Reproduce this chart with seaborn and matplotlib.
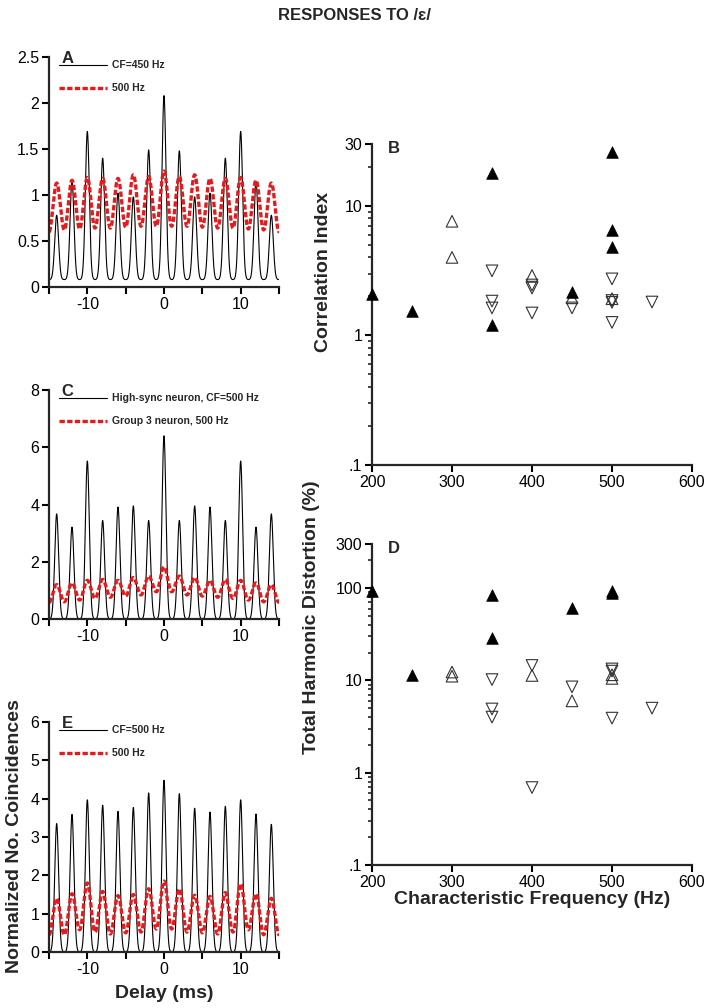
import numpy as np
import pandas as pd
import matplotlib
matplotlib.use("Agg")
import matplotlib.pyplot as plt
import seaborn as sns
from matplotlib.ticker import FixedLocator, FixedFormatter, LogLocator, NullFormatter

# ---- correlogram data (peaks every 2 ms, troughs half way between) ----
peak_delay = [-14, -12, -10, -8, -6, -4, -2, 0, 2, 4, 6, 8, 10, 12, 14]

a_black_peaks = [0.78, 1.15, 1.69, 1.40, 1.02, 0.98, 1.49, 2.08, 1.48, 0.98, 1.02, 1.40, 1.69, 1.15, 0.78]
a_black_floor = 0.08
a_red_peaks = [1.13, 1.16, 1.19, 1.18, 1.18, 1.22, 1.20, 1.26, 1.20, 1.22, 1.18, 1.18, 1.19, 1.16, 1.13]
a_red_troughs = [0.60, 0.62, 0.63, 0.64, 0.64, 0.65, 0.66, 0.66, 0.66, 0.66, 0.65, 0.64, 0.64, 0.63, 0.62, 0.60]

c_black_peaks = [3.67, 3.21, 5.52, 3.44, 3.91, 3.95, 3.44, 6.40, 3.44, 3.95, 3.91, 3.44, 5.52, 3.21, 3.67]
c_black_floor = 0.0
c_red_peaks = [1.20, 1.26, 1.35, 1.38, 1.35, 1.45, 1.50, 1.82, 1.50, 1.45, 1.35, 1.38, 1.35, 1.26, 1.20]
c_red_troughs = [0.58, 0.60, 0.66, 0.72, 0.76, 0.80, 0.84, 0.95, 0.95, 0.84, 0.80, 0.76, 0.72, 0.66, 0.60, 0.58]

e_black_peaks = [3.35, 3.59, 3.97, 3.83, 3.67, 3.77, 4.15, 4.48, 4.13, 3.75, 3.65, 3.80, 3.97, 3.60, 3.33]
e_black_floor = 0.0
e_red_peaks = [1.40, 1.52, 1.80, 1.58, 1.47, 1.50, 1.65, 1.85, 1.65, 1.48, 1.45, 1.55, 1.78, 1.52, 1.40]
e_red_troughs = [0.45, 0.45, 0.58, 0.52, 0.47, 0.50, 0.52, 0.60, 0.60, 0.52, 0.50, 0.47, 0.52, 0.58, 0.45, 0.45]

# ---- panel B: correlation index vs CF ----
b_filled_cf = [200, 250, 350, 350, 450, 500, 500, 500]
b_filled_val = [2.1, 1.55, 18, 1.2, 2.15, 26, 6.5, 4.8]
b_up_cf = [300, 300, 400, 450, 500]
b_up_val = [7.6, 4.0, 2.9, 1.95, 1.92]
b_down_cf = [350, 350, 350, 400, 400, 400, 450, 500, 500, 500, 500, 550]
b_down_val = [3.15, 1.84, 1.63, 2.45, 2.32, 1.49, 1.63, 2.73, 1.86, 1.80, 1.26, 1.81]

# ---- panel D: total harmonic distortion vs CF ----
d_filled_cf = [200, 250, 350, 350, 450, 500, 500]
d_filled_val = [92, 11.3, 85, 29, 61, 88, 92]
d_up_cf = [300, 300, 400, 450, 500, 500]
d_up_val = [12.3, 11.1, 11.3, 6.0, 10.5, 11.5]
d_down_cf = [350, 350, 350, 400, 400, 450, 500, 500, 500, 550]
d_down_val = [10.2, 4.9, 4.0, 14.5, 0.69, 8.5, 13.3, 12.6, 3.9, 5.0]

sns.set_theme(style="ticks")
plt.rcParams['font.family'] = ['Liberation Sans', 'DejaVu Sans']
plt.rcParams['axes.linewidth'] = 1.6

RED = '#e41a1c'
grid = np.linspace(-15, 15, 3001)


def pulse_trace(peaks, floor, width=0.36):
    # narrow peaks sitting on a flat floor
    d = grid[:, None] - np.array(peak_delay)[None, :]
    bumps = (np.array(peaks) - floor) * np.exp(-(d / width) ** 2)
    return floor + bumps.max(axis=1)


def wave_trace(peaks, troughs):
    node_t = np.arange(-15, 16)
    node_v = np.empty(31)
    node_v[0::2] = troughs
    node_v[1::2] = peaks
    i = np.clip(np.searchsorted(node_t, grid, side='right') - 1, 0, 29)
    w = (1 - np.cos(np.pi * (grid - node_t[i]))) / 2
    return node_v[i] + (node_v[i + 1] - node_v[i]) * w


def style_axis(ax):
    sns.despine(ax=ax)
    ax.tick_params(which='major', direction='out', length=5, width=1.5, labelsize=11.5, pad=2,
                   colors='black')
    ax.tick_params(which='minor', direction='out', length=3, width=1.2)
    ax.set_xlabel('')
    ax.set_ylabel('')


fig = plt.figure(figsize=(7.1, 10.08), dpi=100)
W, H = 710.0, 1008.0


def add_ax(left, top, right, bottom):
    return fig.add_axes([left / W, 1 - bottom / H, (right - left) / W, (bottom - top) / H])


corr_panels = [
    ('A', 57, 287, a_black_peaks, a_black_floor, a_red_peaks, a_red_troughs,
     2.5, [0, 0.5, 1, 1.5, 2, 2.5], ['0', '0.5', '1', '1.5', '2', '2.5'],
     'CF=450 Hz', '500 Hz'),
    ('C', 390, 619, c_black_peaks, c_black_floor, c_red_peaks, c_red_troughs,
     8, [0, 2, 4, 6, 8], ['0', '2', '4', '6', '8'],
     'High-sync neuron, CF=500 Hz', 'Group 3 neuron, 500 Hz'),
    ('E', 722, 952, e_black_peaks, e_black_floor, e_red_peaks, e_red_troughs,
     6, [0, 1, 2, 3, 4, 5, 6], ['0', '1', '2', '3', '4', '5', '6'],
     'CF=500 Hz', '500 Hz'),
]

for (letter, top, bottom, bpk, bfl, rpk, rtr, ymax, yt, ytl, lab1, lab2) in corr_panels:
    ax = add_ax(49, top, 279, bottom)
    df = pd.DataFrame({'delay': grid,
                       'black': pulse_trace(bpk, bfl),
                       'red': wave_trace(rpk, rtr)})
    sns.lineplot(data=df, x='delay', y='black', ax=ax, color='black', lw=0.8,
                 estimator=None, sort=False, label=lab1)
    sns.lineplot(data=df, x='delay', y='red', ax=ax, color=RED, lw=2.4,
                 linestyle=(0, (1.6, 0.7)), estimator=None, sort=False, label=lab2)
    ax.set_xlim(-15, 15)
    ax.set_ylim(0, ymax)
    ax.xaxis.set_major_locator(FixedLocator([-15, -10, -5, 0, 5, 10, 15]))
    ax.xaxis.set_major_formatter(FixedFormatter(['', '-10', '', '0', '', '10', '']))
    ax.yaxis.set_major_locator(FixedLocator(yt))
    ax.yaxis.set_major_formatter(FixedFormatter(ytl))
    style_axis(ax)
    leg = ax.legend(loc='upper left', bbox_to_anchor=(0.045, 0.985), frameon=False,
                    fontsize=7.5, handlelength=4.6, handletextpad=0.5, labelspacing=1.25,
                    borderpad=0, borderaxespad=0)
    for t in leg.get_texts():
        t.set_fontweight('semibold')
    ax.text(0.055, 0.975, letter, transform=ax.transAxes, fontsize=12, fontweight='bold',
            va='baseline', ha='left')

# scatter panels
scatter_panels = [
    ('B', 144, 465, 30, [0.1, 1, 10, 30], ['.1', '1', '10', '30'],
     b_filled_cf, b_filled_val, b_up_cf, b_up_val, b_down_cf, b_down_val),
    ('D', 544, 865, 300, [0.1, 1, 10, 100, 300], ['.1', '1', '10', '100', '300'],
     d_filled_cf, d_filled_val, d_up_cf, d_up_val, d_down_cf, d_down_val),
]

for (letter, top, bottom, ymax, yt, ytl, fx, fy, ux, uy, dx, dy) in scatter_panels:
    ax = add_ax(372, top, 692, bottom)
    ax.set_yscale('log')
    sns.scatterplot(x=dx, y=dy, ax=ax, marker='v', s=70, facecolor='none',
                    edgecolor='#333333', linewidth=0.8, clip_on=False, zorder=3)
    sns.scatterplot(x=ux, y=uy, ax=ax, marker='^', s=70, facecolor='none',
                    edgecolor='#333333', linewidth=0.8, clip_on=False, zorder=3)
    sns.scatterplot(x=fx, y=fy, ax=ax, marker='^', s=70, color='black',
                    edgecolor='black', linewidth=0.5, clip_on=False, zorder=4)
    ax.set_xlim(200, 600)
    ax.set_ylim(0.1, ymax)
    ax.xaxis.set_major_locator(FixedLocator([200, 300, 400, 500, 600]))
    ax.xaxis.set_major_formatter(FixedFormatter(['200', '300', '400', '500', '600']))
    ax.yaxis.set_major_locator(FixedLocator(yt))
    ax.yaxis.set_major_formatter(FixedFormatter(ytl))
    ax.yaxis.set_minor_locator(LogLocator(base=10, subs=np.arange(2, 10)))
    ax.yaxis.set_minor_formatter(NullFormatter())
    style_axis(ax)
    ax.text(0.05, 0.985, letter, transform=ax.transAxes, fontsize=12, fontweight='bold',
            va='center', ha='left')

# labels
fig.text(355 / W, 1 - 16 / H, 'RESPONSES TO /\u025b/', ha='center', va='center',
         fontsize=12, fontweight='bold')
fig.text(15 / W, 1 - 836 / H, 'Normalized No. Coincidences', rotation=90, ha='center',
         va='center', fontsize=14, fontweight='bold')
fig.text(164 / W, 1 - 994 / H, 'Delay (ms)', ha='center', va='center', fontsize=14,
         fontweight='bold')
fig.text(324 / W, 1 - 272 / H, 'Correlation Index', rotation=90, ha='center', va='center',
         fontsize=14, fontweight='bold')
fig.text(311 / W, 1 - 617 / H, 'Total Harmonic Distortion (%)', rotation=90, ha='center',
         va='center', fontsize=14, fontweight='bold')
fig.text(532 / W, 1 - 900 / H, 'Characteristic Frequency (Hz)', ha='center', va='center',
         fontsize=14, fontweight='bold')

fig.savefig('out.png', dpi=100, facecolor='white')
